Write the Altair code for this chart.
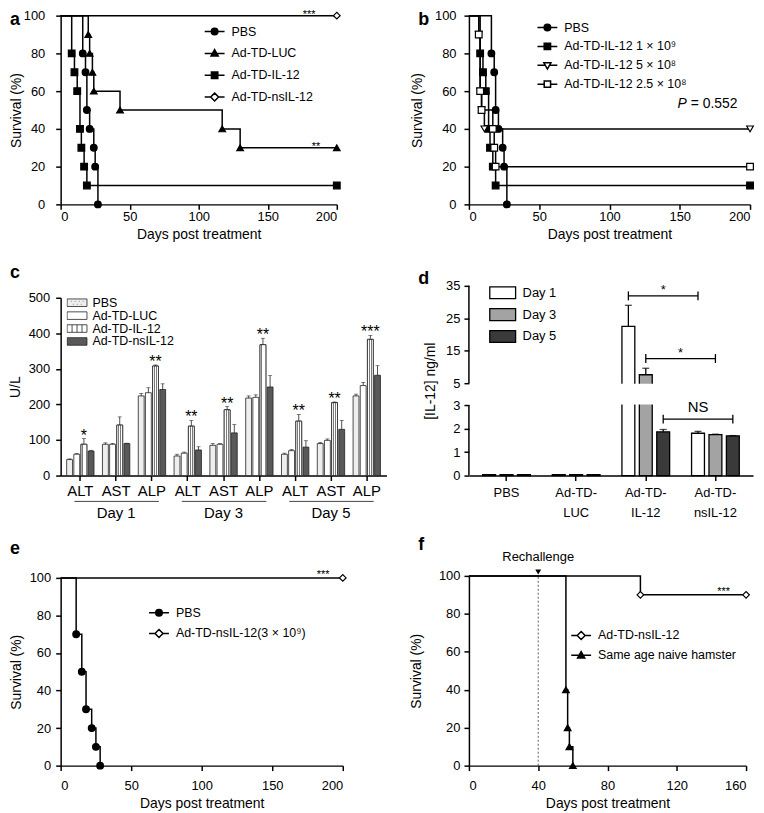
import altair as alt
import pandas as pd

FONT = "Liberation Sans"

# ---------------- data ----------------
# Panel a
a_series = ["PBS", "Ad-TD-LUC", "Ad-TD-IL-12", "Ad-TD-nsIL-12"]
a_pbs_days = [0, 16, 18, 19, 21, 24, 25, 27]
a_pbs_surv = [100, 80, 70, 50, 40, 30, 20, 0]
a_luc_days = [0, 20, 21, 23, 24, 43, 117, 130, 200]
a_luc_surv = [100, 90, 80, 70, 60, 50, 40, 30, 30]
a_il12_days = [0, 8, 10, 12, 14, 15, 17, 19, 200]
a_il12_surv = [100, 80, 70, 60, 40, 30, 20, 10, 10]
a_ns_days = [0, 200]
a_ns_surv = [100, 100]
a_star_days = [180, 185]
a_star_surv = [100, 30]
a_star_text = ["***", "**"]

# Panel b
b_series = ["PBS", "Ad-TD-IL-12 1 × 10⁹", "Ad-TD-IL-12 5 × 10⁸", "Ad-TD-IL-12 2.5 × 10⁸"]
b_pbs_days = [0, 16, 18, 19, 21, 24, 25, 27]
b_pbs_surv = [100, 80, 70, 50, 40, 30, 20, 0]
b_hi_days = [0, 8, 10, 12, 14, 15, 17, 19, 200]
b_hi_surv = [100, 80, 70, 60, 40, 30, 20, 10, 10]
b_mid_days = [0, 7, 8, 9, 11, 200]
b_mid_surv = [100, 90, 60, 50, 40, 40]
b_lo_days = [0, 7, 8, 9, 17, 18, 19, 200]
b_lo_surv = [100, 90, 60, 50, 40, 30, 20, 20]
b_p_day = [155]
b_p_surv = [53]

# Panel c (U/L), order: Day1 ALT AST ALP, Day3 ..., Day5 ...
c_days = ["Day 1", "Day 3", "Day 5"]
c_tests = ["ALT", "AST", "ALP"]
c_series = ["PBS", "Ad-TD-LUC", "Ad-TD-IL-12", "Ad-TD-nsIL-12"]
c_pbs = [45, 88, 224, 55, 85, 218, 60, 90, 224]
c_pbs_err = [2, 4, 7, 5, 5, 6, 3, 3, 5]
c_luc = [60, 88, 233, 63, 88, 220, 70, 99, 253]
c_luc_err = [2, 2, 14, 3, 2, 7, 3, 4, 9]
c_il12 = [88, 142, 308, 139, 185, 368, 153, 205, 383]
c_il12_err = [16, 23, 3, 16, 9, 18, 19, 2, 11]
c_ns = [69, 90, 242, 72, 120, 249, 80, 130, 282]
c_ns_err = [2, 1, 16, 9, 24, 32, 18, 25, 27]
c_star_groups = ["Day 1|ALT", "Day 1|ALP", "Day 3|ALT", "Day 3|AST", "Day 3|ALP",
                 "Day 5|ALT", "Day 5|AST", "Day 5|ALP"]
c_star_text = ["*", "**", "**", "**", "**", "**", "**", "***"]

# Panel d ([IL-12] ng/ml)
d_groups = ["PBS", "Ad-TD-LUC", "Ad-TD-IL-12", "Ad-TD-nsIL-12"]
d_days = ["Day 1", "Day 3", "Day 5"]
d_day1 = [0.04, 0.04, 22.5, 1.80]
d_day1_err = [0, 0, 6.5, 0.08]
d_day3 = [0.04, 0.04, 7.6, 1.74]
d_day3_err = [0, 0, 2.0, 0.02]
d_day5 = [0.04, 0.04, 1.86, 1.69]
d_day5_err = [0, 0, 0.1, 0.01]
d_br_day = ["Day 1", "Day 3", "Day 5"]
d_br_val = [31.9, 12.6, 2.4]
d_br_text = ["*", "*", "NS"]

# Panel e
e_series = ["PBS", "Ad-TD-nsIL-12(3 × 10⁹)"]
e_pbs_days = [0, 11, 15, 18, 22, 25, 28]
e_pbs_surv = [100, 70, 50, 30, 20, 10, 0]
e_ns_days = [0, 200]
e_ns_surv = [100, 100]
e_star_days = [186]
e_star_surv = [100]
e_star_text = ["***"]

# Panel f
f_series = ["Ad-TD-nsIL-12", "Same age naive hamster"]
f_ns_days = [0, 99, 160]
f_ns_surv = [100, 90, 90]
f_naive_days = [0, 56, 57, 58, 60]
f_naive_surv = [100, 40, 20, 10, 0]
f_rech_day = [40]
f_star_days = [147]
f_star_surv = [90]
f_star_text = ["***"]

# ---------------- layout ----------------
H1, H2, H3 = 190, 213, 232
C_TOP, D_TOP, E_TOP, F_TOP = 34, 22, 43, 41
A_W, B_W, C_W, D_W, E_W, F_W = 278, 283, 328, 286, 284, 279

# legend symbol paths (line through marker)
P_CIRCLE = "M-1,0H1M-0.33,0A0.33,0.33,0,1,1,0.33,0A0.33,0.33,0,1,1,-0.33,0Z"
P_TRI = "M-1,0H1M0,-0.38L0.36,0.26L-0.36,0.26Z"
P_SQUARE = "M-1,0H1M-0.32,-0.32H0.32V0.32H-0.32Z"
P_DIAMOND = "M-1,0H-0.4M0.4,0H1M0,-0.4L0.4,0L0,0.4L-0.4,0Z"
P_TRI_DOWN = "M-1,0H-0.21M0.21,0H1M-0.36,-0.26H0.36L0,0.38Z"
P_SQUARE_OPEN = "M-1,0H-0.32M0.32,0H1M-0.32,-0.32H0.32V0.32H-0.32Z"
R_PLAIN = "M-1,-0.38H1V0.38H-1Z"
R_STRIPE = "M-1,-0.38H1V0.38H-1Z M-0.5,-0.38V0.38 M0,-0.38V0.38 M0.5,-0.38V0.38"
R_DOTS = ("M-1,-0.38H1V0.38H-1Z M-0.62,-0.14h0.06 M-0.22,-0.14h0.06 M0.18,-0.14h0.06 M0.58,-0.14h0.06"
          " M-0.42,0.16h0.06 M-0.02,0.16h0.06 M0.38,0.16h0.06")


def km_df(items):
    rows = []
    for name, days, surv in items:
        for i, (d, s) in enumerate(zip(days, surv)):
            rows.append({"series": name, "day": d, "surv": s, "marker": i > 0})
    return pd.DataFrame(rows)


def letter(t, y):
    return alt.Chart(pd.DataFrame({"t": [t]})).mark_text(
        fontSize=18, fontWeight="bold", align="left", baseline="middle", font=FONT, color="black"
    ).encode(text="t:N", x=alt.value(-51), y=alt.value(y))


def stars(days, surv, texts, dy=-1, size=11):
    df = pd.DataFrame({"day": days, "surv": surv, "label": texts})
    return alt.Chart(df).mark_text(dy=dy, fontSize=size, font=FONT, color="black").encode(
        x="day:Q", y="surv:Q", text="label:N")


def km_panel(ltxt, ly, df, series, shapes, fills, paths, width, cell_h, top,
             xmax, xticks, lgx, lgy, lgrow, extras, xlp, ylp, ytp):
    xs = alt.Scale(domain=[0, xmax], nice=False)
    ys = alt.Scale(domain=[0, 100], range=[cell_h, top], nice=False)
    line = alt.Chart(df).mark_line(interpolate="step-after", color="black", strokeWidth=1.5).encode(
        x=alt.X("day:Q", scale=xs, axis=alt.Axis(values=xticks, tickCount=20, title="Days post treatment",
                                                 labelPadding=xlp, titlePadding=4)),
        y=alt.Y("surv:Q", scale=ys, axis=alt.Axis(values=[0, 20, 40, 60, 80, 100], tickCount=20,
                                                  title="Survival (%)", labelPadding=ylp, titlePadding=ytp)),
        detail="series:N",
    )
    pts = alt.Chart(df).transform_filter("datum.marker").mark_point(
        filled=True, size=45, stroke="black", strokeWidth=1.2, opacity=1
    ).encode(
        x="day:Q", y="surv:Q",
        shape=alt.Shape("series:N", scale=alt.Scale(domain=series, range=shapes), legend=None),
        fill=alt.Fill("series:N", scale=alt.Scale(domain=series, range=fills), legend=None),
    )
    lg = alt.Legend(title=None, orient="none", legendX=lgx, legendY=lgy, symbolSize=400,
                    symbolStrokeWidth=1.5, symbolOpacity=1,
                    labelFontSize=12.5, labelFont=FONT, labelOffset=6, rowPadding=0, clipHeight=lgrow)
    leg = alt.Chart(df).transform_filter("false").mark_point(filled=True, opacity=1).encode(
        shape=alt.Shape("series:N", scale=alt.Scale(domain=series, range=paths), legend=lg),
        fill=alt.Fill("series:N", scale=alt.Scale(domain=series, range=fills), legend=lg),
        stroke=alt.Stroke("series:N", scale=alt.Scale(domain=series, range=["black"] * len(series)),
                          legend=lg),
    )
    return alt.layer(line, pts, leg, *extras, letter(ltxt, ly)).resolve_scale(
        shape="independent", fill="independent", stroke="independent").properties(
        width=width, height=cell_h)


# ---- a ----
a_df = km_df([(a_series[0], a_pbs_days, a_pbs_surv), (a_series[1], a_luc_days, a_luc_surv),
              (a_series[2], a_il12_days, a_il12_surv), (a_series[3], a_ns_days, a_ns_surv)])
panel_a = km_panel("a", 4, a_df, a_series, ["circle", "triangle-up", "square", "diamond"],
                   ["black", "black", "black", "white"], [P_CIRCLE, P_TRI, P_SQUARE, P_DIAMOND],
                   A_W, H1, 0, 200, [0, 50, 100, 150, 200], 144, 5, 22,
                   [stars(a_star_days, a_star_surv, a_star_text)], 1, 11, 0)

# ---- b ----
b_df = km_df([(b_series[0], b_pbs_days, b_pbs_surv), (b_series[1], b_hi_days, b_hi_surv),
              (b_series[2], b_mid_days, b_mid_surv), (b_series[3], b_lo_days, b_lo_surv)])
b_p = pd.DataFrame({"day": b_p_day, "surv": b_p_surv})
b_p1 = alt.Chart(b_p).mark_text(text="P", fontStyle="italic", fontSize=14, align="right", font=FONT,
                                color="black").encode(x="day:Q", y="surv:Q")
b_p2 = alt.Chart(b_p).mark_text(text="= 0.552", fontSize=14, align="left", dx=4, font=FONT,
                                color="black").encode(x="day:Q", y="surv:Q")
panel_b = km_panel("b", 4, b_df, b_series, ["circle", "square", "triangle-down", "square"],
                   ["black", "black", "white", "white"], [P_CIRCLE, P_SQUARE, P_TRI_DOWN, P_SQUARE_OPEN],
                   B_W, H1, 0, 200, [0, 50, 100, 150, 200], 68, 2.5, 19, [b_p1, b_p2], 1, 8, 10)


def slot_params(n_groups, per_group, pi_s, po_s, width):
    """band scale over bar slots (one spacer slot between groups) and matching group scale"""
    m = per_group + 1
    n = n_groups * m - 1
    po_g = (po_s - 0.5 - pi_s / 2) / m
    step = width / (n - pi_s + 2 * po_s)
    return po_g, step


# ---- c ----
c_groups = [f"{d}|{t}" for d in c_days for t in c_tests]
c_slots = []
for gi, g in enumerate(c_groups):
    c_slots += [f"{g}#{s}" for s in c_series]
    if gi < len(c_groups) - 1:
        c_slots.append(f"{g}#gap")
rows = []
for s, vals, errs in [(c_series[0], c_pbs, c_pbs_err), (c_series[1], c_luc, c_luc_err),
                      (c_series[2], c_il12, c_il12_err), (c_series[3], c_ns, c_ns_err)]:
    for g, v, e in zip(c_groups, vals, errs):
        rows.append({"grp": g, "slot": f"{g}#{s}", "series": s, "value": v, "top": v + e})
c_df = pd.DataFrame(rows)
c_fills = ["#eeeeee", "white", "#d9d9d9", "#595959"]
C_PI, C_PO = 0.18, 0.84
c_po_g, c_step = slot_params(len(c_groups), len(c_series), C_PI, C_PO, C_W)
cslot = alt.Scale(type="band", domain=c_slots, paddingInner=C_PI, paddingOuter=C_PO)
cgrp = alt.Scale(type="band", domain=c_groups, paddingInner=0, paddingOuter=c_po_g)
cy = alt.Scale(domain=[0, 500], range=[H2, C_TOP], nice=False)
CS = lambda: alt.X("slot:N", scale=cslot, axis=None)
CG = lambda: alt.X("grp:N", scale=cgrp, axis=None)
c_bars = alt.Chart(c_df).mark_bar(stroke="#222", strokeWidth=0.8).encode(
    x=CS(),
    y=alt.Y("value:Q", scale=cy, axis=alt.Axis(values=[0, 100, 200, 300, 400, 500], tickCount=20,
                                               title="U/L", labelPadding=6, titlePadding=6)),
    fill=alt.Fill("series:N", scale=alt.Scale(domain=c_series, range=c_fills), legend=None),
)
stripe = {"gradient": "linear", "x1": 0, "y1": 0, "x2": 1, "y2": 0, "stops": [
    {"offset": 0, "color": "white"}, {"offset": 0.25, "color": "white"},
    {"offset": 0.25, "color": "#7a7a7a"}, {"offset": 0.4, "color": "#7a7a7a"},
    {"offset": 0.4, "color": "white"}, {"offset": 0.6, "color": "white"},
    {"offset": 0.6, "color": "#7a7a7a"}, {"offset": 0.75, "color": "#7a7a7a"},
    {"offset": 0.75, "color": "white"}, {"offset": 1, "color": "white"}]}
c_stripes = alt.Chart(c_df).transform_filter(alt.datum.series == "Ad-TD-IL-12").mark_bar(
    fill=stripe, stroke="#222", strokeWidth=0.8).encode(x=CS(), y=alt.Y("value:Q", title="U/L"))
c_err = alt.Chart(c_df).mark_rule(color="#222", strokeWidth=0.8).encode(
    x=CS(), y=alt.Y("value:Q", title="U/L"), y2="top:Q")
c_cap = alt.Chart(c_df).mark_tick(color="#222", thickness=0.8, size=4).encode(
    x=CS(), y=alt.Y("top:Q", title="U/L"))
c_star_df = c_df[(c_df.series == "Ad-TD-IL-12") & (c_df.grp.isin(c_star_groups))].copy()
c_star_df["label"] = [c_star_text[c_star_groups.index(g)] for g in c_star_df.grp]
c_stars = alt.Chart(c_star_df).mark_text(dy=-3, fontSize=16, font=FONT, color="black").encode(
    x=CS(), y=alt.Y("top:Q", title="U/L"), text="label:N")
c_axis = alt.Chart(pd.DataFrame({"grp": c_groups})).mark_text(text="").encode(
    x=alt.X("grp:N", scale=cgrp, axis=alt.Axis(title=None, labelExpr="split(datum.label, '|')[1]",
                                               labelAngle=0, labelFontSize=15, labelPadding=3)),
    y=alt.value(0))
c_daylab = pd.DataFrame({"grp": [f"{d}|AST" for d in c_days], "label": c_days})
c_days_t = alt.Chart(c_daylab).mark_text(fontSize=15, font=FONT, baseline="middle", color="black").encode(
    x=CG(), y=alt.value(H2 + 38), text="label:N")
c_ul = pd.DataFrame({"grp": [f"{d}|ALT" for d in c_days], "grp_end": [f"{d}|ALP" for d in c_days]})
c_under = alt.Chart(c_ul).mark_rule(color="#444", strokeWidth=1, xOffset=-6, x2Offset=7).encode(
    x=CG(), x2="grp_end:N", y=alt.value(H2 + 26))
c_lg = alt.Legend(title=None, orient="none", legendX=6, legendY=C_TOP - 1, symbolSize=400,
                  symbolStrokeWidth=0.8, symbolOpacity=1, labelFontSize=12.5, labelFont=FONT,
                  labelOffset=5, rowPadding=0, clipHeight=12)
c_leg = alt.Chart(c_df).transform_filter("false").mark_point(filled=True, opacity=1).encode(
    shape=alt.Shape("series:N", scale=alt.Scale(domain=c_series, range=[R_DOTS, R_PLAIN, R_STRIPE, R_PLAIN]),
                    legend=c_lg),
    fill=alt.Fill("series:N", scale=alt.Scale(domain=c_series, range=c_fills[:2] + ["white", c_fills[3]]),
                  legend=c_lg),
    stroke=alt.Stroke("series:N", scale=alt.Scale(domain=c_series, range=["#222"] * 4), legend=c_lg),
)
panel_c = alt.layer(c_bars, c_stripes, c_err, c_cap, c_stars, c_axis, c_days_t, c_under, c_leg,
                    letter("c", 9)).resolve_scale(
    x="independent", fill="independent", shape="independent", stroke="independent").properties(
    width=C_W, height=H2)

# ---- d ----
d_slots = []
for gi, g in enumerate(d_groups):
    d_slots += [f"{g}#{d}" for d in d_days]
    if gi < len(d_groups) - 1:
        d_slots.append(f"{g}#gap")
rows = []
for day, vals, errs in [(d_days[0], d_day1, d_day1_err), (d_days[1], d_day3, d_day3_err),
                        (d_days[2], d_day5, d_day5_err)]:
    for g, v, e in zip(d_groups, vals, errs):
        rows.append({"group": g, "slot": f"{g}#{day}", "day": day, "value": v, "top": v + e, "err": e})
d_df = pd.DataFrame(rows)
D_PI, D_PO = 0.26, 0.79
d_po_g, d_step = slot_params(len(d_groups), len(d_days), D_PI, D_PO, D_W)
dslot = alt.Scale(type="band", domain=d_slots, paddingInner=D_PI, paddingOuter=D_PO)
dgrp = alt.Scale(type="band", domain=d_groups, paddingInner=0, paddingOuter=d_po_g)
dys = alt.Scale(domain=[0, 3, 5, 35], range=[H2, H2 - 71, H2 - 93, D_TOP], nice=False, zero=False)
YT = "[IL-12] ng/ml"
DS = lambda: alt.X("slot:N", scale=dslot, axis=None)
d_legend = alt.Legend(title=None, orient="none", legendX=20, legendY=D_TOP - 4,
                      symbolType="M-1,-0.46H1V0.46H-1Z", symbolSize=676, symbolStrokeColor="black",
                      symbolStrokeWidth=1.3, labelFontSize=13, labelFont=FONT, labelOffset=6,
                      rowPadding=0, clipHeight=22)
d_bars = alt.Chart(d_df).mark_bar(stroke="black", strokeWidth=1.3).encode(
    x=DS(),
    y=alt.Y("value:Q", scale=dys, title=YT, axis=alt.Axis(values=[0, 1, 2, 3, 5, 15, 25, 35], tickCount=50,
                                                         format="d", domain=False, labelOverlap=False,
                                                         labelPadding=4, titlePadding=8)),
    fill=alt.Fill("day:N", scale=alt.Scale(domain=d_days, range=["white", "#a3a3a3", "#3a3a3a"]),
                  legend=d_legend),
)
d_gap = alt.Chart(pd.DataFrame({"k": [0]})).mark_rect(color="white").encode(
    x=alt.value(1), x2=alt.value(D_W), y=alt.datum(3.06), y2=alt.datum(4.94))
d_errdf = d_df[d_df.err > 0]
d_err = alt.Chart(d_errdf).mark_rule(color="black", strokeWidth=1.3).encode(
    x=DS(), y=alt.Y("value:Q", title=YT), y2="top:Q")
d_cap = alt.Chart(d_errdf).mark_tick(color="black", thickness=1.3, size=7).encode(
    x=DS(), y=alt.Y("top:Q", title=YT))
d_br = pd.DataFrame({"slot": [f"Ad-TD-IL-12#{d}" for d in d_br_day],
                     "slot_end": [f"Ad-TD-nsIL-12#{d}" for d in d_br_day],
                     "value": d_br_val, "label": d_br_text})
d_br_ends = pd.DataFrame({"slot": list(d_br.slot) + list(d_br.slot_end),
                          "value": d_br_val + d_br_val})
d_br_line = alt.Chart(d_br).mark_rule(color="black", strokeWidth=1.3).encode(
    x=DS(), x2="slot_end:N", y=alt.Y("value:Q", title=YT))
d_br_tick = alt.Chart(d_br_ends).mark_rule(color="black", strokeWidth=1.3, yOffset=-4.5, y2Offset=4.5).encode(
    x=DS(), y=alt.Y("value:Q", title=YT), y2="value:Q")
d_star = alt.Chart(d_br[d_br.label != "NS"]).mark_text(dx=2 * d_step, dy=-6, fontSize=13, font=FONT,
                                                       color="black").encode(
    x=DS(), y=alt.Y("value:Q", title=YT), text="label:N")
d_ns = alt.Chart(d_br[d_br.label == "NS"]).mark_text(dx=2 * d_step, dy=-12, fontSize=15, font=FONT,
                                                     color="black").encode(
    x=DS(), y=alt.Y("value:Q", title=YT), text="label:N")
d_axis_df = pd.DataFrame({"value": [0, 5], "v2": [3, 35]})
d_axis = alt.Chart(d_axis_df).mark_rule(color="black", strokeWidth=1.5).encode(
    x=alt.value(0), y=alt.Y("value:Q", title=YT), y2="v2:Q")
d_xaxis = alt.Chart(pd.DataFrame({"group": d_groups})).mark_text(text="").encode(
    x=alt.X("group:N", scale=dgrp, axis=alt.Axis(
        title=None, labelAngle=0, labelPadding=6, labelLineHeight=20,
        labelExpr="datum.label == 'PBS' ? 'PBS' : ['Ad-TD-', slice(datum.label, 6)]")),
    y=alt.value(0))
panel_d = alt.layer(d_bars, d_gap, d_err, d_cap, d_br_line, d_br_tick, d_star, d_ns, d_axis, d_xaxis,
                    letter("d", 15)).resolve_scale(x="independent", fill="independent").properties(
    width=D_W, height=H2)

# ---- e ----
e_df = km_df([(e_series[0], e_pbs_days, e_pbs_surv), (e_series[1], e_ns_days, e_ns_surv)])
panel_e = km_panel("e", 14, e_df, e_series, ["circle", "diamond"], ["black", "white"],
                   [P_CIRCLE, P_DIAMOND], E_W, H3, E_TOP, 200, [0, 50, 100, 150, 200],
                   88, E_TOP + 35 - 10.5, 21, [stars(e_star_days, e_star_surv, e_star_text, dy=-3)], 9, 5, 6)

# ---- f ----
f_df = km_df([(f_series[0], f_ns_days, f_ns_surv), (f_series[1], f_naive_days, f_naive_surv)])
f_r = pd.DataFrame({"day": f_rech_day, "label": ["Rechallenge"]})
f_rule = alt.Chart(f_r).mark_rule(color="#333", strokeWidth=0.8, strokeDash=[2, 2]).encode(
    x="day:Q", y=alt.datum(0), y2=alt.datum(100))
f_tri = alt.Chart(f_r).mark_point(shape="triangle-down", filled=True, color="black", size=35,
                                  opacity=1, yOffset=-4).encode(x="day:Q", y=alt.datum(100))
f_txt = alt.Chart(f_r).mark_text(dy=-19, fontSize=13, font=FONT, color="black").encode(
    x="day:Q", y=alt.datum(100), text="label:N")
panel_f = km_panel("f", 10, f_df, f_series, ["diamond", "triangle-up"], ["white", "black"],
                   [P_DIAMOND, P_TRI], F_W, H3, F_TOP, 160, [0, 40, 80, 120, 160],
                   102, F_TOP + 60 - 10, 20,
                   [f_rule, f_tri, f_txt, stars(f_star_days, f_star_surv, f_star_text, dy=-3)], 9, 4, 15)

chart = alt.concat(panel_a, panel_b, panel_c, panel_d, panel_e, panel_f, columns=2,
                   spacing={"row": 60, "column": 83}, bounds="flush").properties(
    padding={"left": 0, "top": -2, "right": 0, "bottom": 0})
chart = chart.configure(font=FONT).configure_view(strokeWidth=0).configure_axis(
    domainColor="black", domainWidth=1.5, tickColor="black", tickWidth=1.5, tickSize=5,
    labelColor="black", labelFontSize=13, labelFont=FONT, titleFont=FONT, titleFontSize=14,
    titleFontWeight="normal", titleColor="black", grid=False
).configure_legend(padding=0, labelColor="black")

chart.save("out.html", embed_options={"renderer": "svg", "actions": False})
